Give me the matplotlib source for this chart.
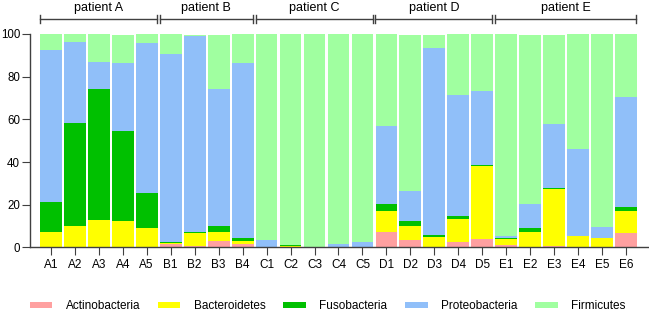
import matplotlib
matplotlib.use("Agg")
import matplotlib.pyplot as plt
import numpy as np

plt.rcParams['font.family'] = ['Liberation Sans', 'DejaVu Sans']

samples = ["A1","A2","A3","A4","A5","B1","B2","B3","B4","C1","C2","C3","C4","C5",
           "D1","D2","D3","D4","D5","E1","E2","E3","E4","E5","E6"]
patients = ["patient A","patient B","patient C","patient D","patient E"]
patient_sizes = [5, 4, 5, 5, 6]

# cumulative tops
cum_actino = [0,0,0,0,0, 1.5,0.6,3.2,1.5, 0,0,0,0,0, 7.1,3.5,0,2.7,4.1, 1.0,0,0.5,0,0,6.6]
cum_bactero = [7.2,10.2,13.0,12.5,9.3, 2.1,6.6,7.1,3.2, 0,0.7,0,0,0, 17.2,10.0,4.9,13.2,38.1, 3.8,7.4,27.3,5.5,4.6,17.2]
cum_fuso = [21.4,58.2,74.4,54.4,25.6, 2.5,7.1,10.2,4.3, 0,1.0,0,0.3,0, 20.3,12.2,5.6,14.7,38.7, 4.4,9.3,28.0,5.5,4.6,18.8]
cum_proteo = [92.6,96.0,86.7,86.2,95.6, 90.4,98.8,74.1,86.4, 3.5,1.0,0,1.7,2.4, 56.8,26.5,93.2,71.3,73.3, 5.4,20.3,57.9,46.2,9.4,70.3]
cum_firmi = [100,100,100,99.3,100, 100,99.6,99.5,99.8, 100,100,100,100,100, 100,99.5,99.5,100,100, 100,99.5,99.5,100,100,100]

names = ["Actinobacteria","Bacteroidetes","Fusobacteria","Proteobacteria","Firmicutes"]
colors = ["#FFA0A0","#FFFF00","#00C000","#90BFF9","#A0FFA0"]

cums = [cum_actino, cum_bactero, cum_fuso, cum_proteo, cum_firmi]
x = np.arange(len(samples))

fig = plt.figure(figsize=(6.49, 3.14), dpi=100)
ax = fig.add_axes([0.046, 0.212, 0.952, 0.68])

prev = np.zeros(len(samples))
for name, col, cum in zip(names, colors, cums):
    cum = np.array(cum, dtype=float)
    h = np.clip(cum - prev, 0, None)
    ax.bar(x, h, bottom=prev, width=0.91, color=col, label=name, linewidth=0)
    prev = np.maximum(prev, cum)

ax.set_xlim(-0.875, 24.9)
ax.set_ylim(0, 100)
ax.set_yticks([0, 20, 40, 60, 80, 100])
ax.set_xticks(x)
ax.set_xticklabels(samples)
for s in ["top", "right"]:
    ax.spines[s].set_visible(False)
for s in ["left", "bottom"]:
    ax.spines[s].set_color("#404040")
    ax.spines[s].set_linewidth(1.0)
ax.tick_params(axis="both", colors="#404040", labelcolor="black", length=5.5)
ax.tick_params(axis="x", pad=3, labelsize=8.5)
ax.tick_params(axis="y", pad=1.5, labelsize=8.3)

# patient brackets
trans = ax.get_xaxis_transform()
start = 0
for pname, n in zip(patients, patient_sizes):
    x0 = start - 0.46
    x1 = start + n - 1 + 0.42
    yb = 1.07
    ax.plot([x0, x1], [yb, yb], color="#404040", lw=1.0, transform=trans, clip_on=False)
    for xe in (x0, x1):
        ax.plot([xe, xe], [yb - 0.02, yb + 0.02], color="#404040", lw=1.0, transform=trans, clip_on=False)
    ax.text((x0 + x1) / 2, yb + 0.022, pname, transform=trans, ha="center", va="bottom", fontsize=9)
    start += n

handles, labels = ax.get_legend_handles_labels()
fig.legend(handles, labels, loc="center left", bbox_to_anchor=(0.033, 0.025), ncol=5, frameon=False,
           fontsize=8.5, handlelength=1.9, handleheight=0.35, columnspacing=1.5, handletextpad=1.15,
           borderpad=0.2)

fig.savefig("out.png", dpi=100)
